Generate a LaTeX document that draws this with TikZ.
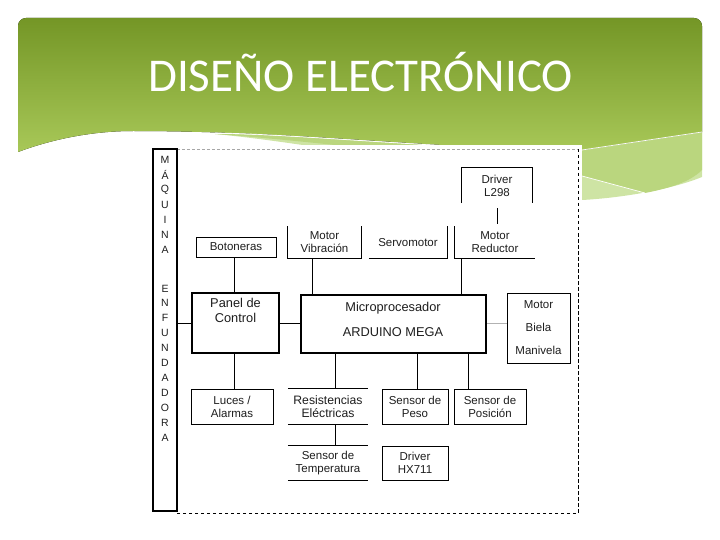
\documentclass[tikz,border=0pt]{standalone}
\usepackage{fontspec}
\setmainfont{Liberation Sans}
\newfontfamily\titlefont{Carlito}
\definecolor{gtop}{RGB}{116,150,38}
\definecolor{gbot}{RGB}{168,200,88}
\definecolor{band1}{RGB}{186,214,126}
\definecolor{band2}{RGB}{206,228,164}
\definecolor{txtc}{RGB}{30,30,30}
\tikzset{
  lbl/.style={inner sep=0pt, align=center, font=\fontsize{11.5}{13}\selectfont, text=txtc},
  bigl/.style={lbl, font=\fontsize{12.8}{15}\selectfont},
  boxf/.style={lbl, draw=black, line width=0.8pt},
  boxo/.style={lbl},
  thickbox/.style={draw=black, line width=2.6pt, inner sep=0pt},
  conn/.style={draw=black, line width=0.8pt},
  letter/.style={inner sep=0pt, font=\fontsize{10.5}{12}\selectfont, text=txtc}
}
\begin{document}
\begin{tikzpicture}[x=1pt,y=-1pt]
\useasboundingbox (0,0) rectangle (720,540);
% header background
\fill[band2] (215,134) .. controls (300,142) and (480,172) .. (582,200)
  .. controls (620,198) and (670,190) .. (702,177) -- (702,132) -- (582,150)
  .. controls (450,150) and (300,134) .. (215,134) -- cycle;
\fill[band1] (215,134) .. controls (300,140) and (480,160) .. (582,176)
  -- (645,193) .. controls (670,188) and (690,182) .. (702,170) -- (702,132) -- (582,150)
  .. controls (450,150) and (300,134) .. (215,134) -- cycle;
\fill[top color=gtop, bottom color=gbot] (18,152) [rounded corners=8pt]-- (18,18) -- (702,18) [sharp corners]-- (702,132) -- (582,150)
  .. controls (450,150) and (300,131) .. (133,131) .. controls (90,131) and (50,140) .. (18,152) -- cycle;
\draw[white, line width=0.7pt] (702,132) -- (582,150) .. controls (450,150) and (300,134) .. (215,133);
\draw[white, line width=0.7pt] (582,176) -- (645,193);
% title
\node[anchor=base west, inner sep=0pt, text=white, font=\titlefont\fontsize{47}{50}\selectfont] (title) at (148,92) {DISEÑO ELECTRÓNICO};
% image area
\fill[white] (150,145) rectangle (582,515);
% dashed frame
\draw[gray!70, line width=0.6pt, dash pattern=on 3pt off 2pt] (177,149) -- (578,149);
\draw[black, line width=0.8pt, dash pattern=on 3.5pt off 2.5pt] (578,149) -- (578,513) -- (177,513);
% left bar
\node[thickbox, minimum width=24pt, minimum height=362pt] (bar) at (165,330) {};
\foreach \ch/\yy [count=\i] in {M/160,Á/175,Q/190,U/205,I/220,N/235,A/250,E/289,N/303,F/318,U/333,N/348,D/363,A/378,D/393,O/408,R/423,A/438}
  \node[letter] (L\i) at (165,\yy) {\ch};
% top row
\node[boxf, minimum width=80pt, minimum height=20pt] (bot) at (236,247) {Botoneras};
\node[boxo, minimum width=73pt, minimum height=32pt] (mv) at (324.5,242.5) {Motor\\Vibración};
\draw[conn] (mv.north west) -- (mv.south west) -- (mv.south east) -- (mv.north east);
\node[boxo, minimum width=78pt, minimum height=32pt] (servo) at (408,242.5) {Servomotor};
\draw[conn] (servo.south west) -- (servo.south east) -- (servo.north east);
\node[boxo, minimum width=80pt, minimum height=32pt] (mr) at (495,242.5) {Motor\\Reductor};
\draw[conn] (mr.north west) -- (mr.south west) -- (mr.south east);
\node[boxo, minimum width=70pt, minimum height=35pt] (drv) at (497,185.5) {Driver\\L298};
\draw[conn] (drv.south west) -- (drv.north west) -- (drv.north east) -- (drv.south east);
% middle row
\node[thickbox, minimum width=87pt, minimum height=60pt] (panel) at (235.5,323) {};
\node[bigl, anchor=north] (paneltxt) at (235.5,298) {Panel de\\Control};
\node[thickbox, minimum width=185pt, minimum height=58pt] (micro) at (393.5,324) {};
\node[bigl] (microtxt) at (393,319.5) {Microprocesador\\[10pt]ARDUINO MEGA};
\node[boxf, minimum width=63pt, minimum height=70pt, font=\fontsize{11.5}{23}\selectfont] (mbm) at (538.5,328) {Motor\\Biela\\Manivela};
% bottom rows
\node[boxf, minimum width=82pt, minimum height=35pt] (luces) at (232,406.5) {Luces /\\Alarmas};
\node[boxo, minimum width=80pt, minimum height=35pt, font=\fontsize{12.2}{13}\selectfont] (res) at (328,406.5) {Resistencias\\Eléctricas};
\draw[conn] (res.north west) -- (res.north east) (res.south west) -- (res.south east);
\node[boxf, minimum width=66pt, minimum height=35pt] (peso) at (415,406.5) {Sensor de\\Peso};
\node[boxf, minimum width=72pt, minimum height=35pt] (pos) at (490,406.5) {Sensor de\\Posición};
\node[boxo, minimum width=80pt, minimum height=34pt] (temp) at (328,463) {Sensor de\\Temperatura};
\draw[conn] (temp.north west) -- (temp.north east) (temp.south west) -- (temp.south east);
\node[boxf, minimum width=66pt, minimum height=34pt] (hx) at (415,463) {Driver\\HX711};
% connectors
\draw[conn] (bar.east |- panel.west) -- (panel.west);
\draw[conn] (panel.east) -- (panel.east -| micro.west);
\draw[gray!60, line width=0.8pt] (micro.east |- mbm.west) ++(0,-5) coordinate (mbmA) -- (mbmA -| mbm.west);
\draw[conn] ([xshift=-2pt]bot.south) -- ([xshift=-2pt]bot.south |- panel.north);
\draw[conn] ([xshift=25pt]mv.south west) -- ([xshift=25pt]mv.south west |- micro.north);
\draw[conn] ([xshift=7pt]mr.south west) -- ([xshift=7pt]mr.south west |- micro.north);
\draw[conn] ([yshift=-5pt]drv.south) -- ([yshift=2pt]drv.south |- mr.north);
\draw[conn] ([xshift=-1.5pt]panel.south) -- ([xshift=-1.5pt]panel.south |- luces.north);
\draw[conn] ([xshift=7pt]res.north |- micro.south) -- ([xshift=7pt]res.north);
\draw[conn] ([xshift=7pt]res.south) -- ([xshift=7pt]temp.north);
\draw[conn] ([xshift=2pt]peso.north |- micro.south) -- ([xshift=2pt]peso.north);
\draw[conn] ([xshift=-22pt]pos.north |- micro.south) -- ([xshift=-22pt]pos.north);
\end{tikzpicture}
\end{document}
